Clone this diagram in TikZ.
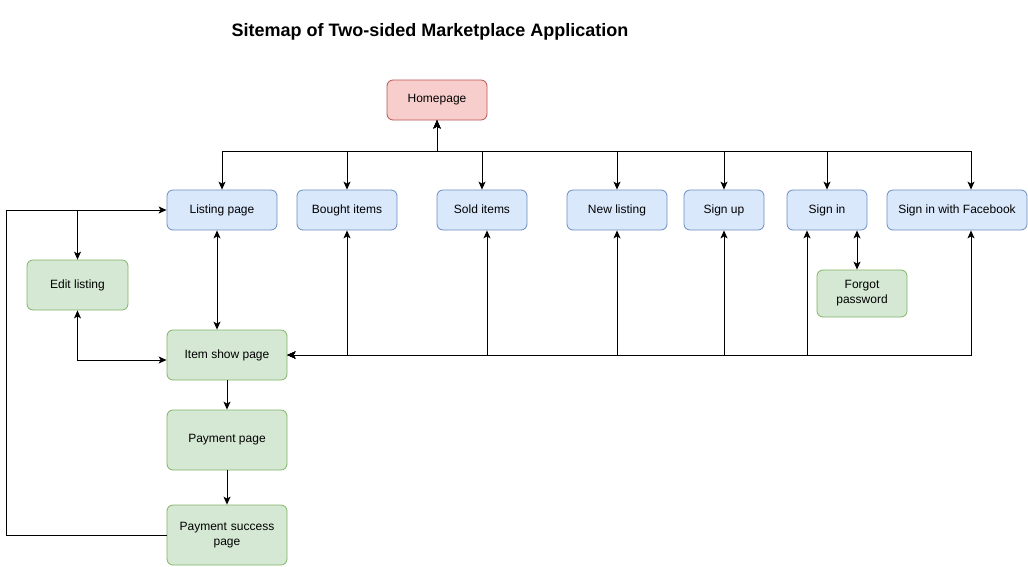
\documentclass[tikz,border=0pt]{standalone}
\usepackage{fontspec}
\setmainfont{Liberation Sans}
\usetikzlibrary{positioning,arrows.meta}

\definecolor{bluefill}{HTML}{DAE8FC}
\definecolor{blueline}{HTML}{6C8EBF}
\definecolor{greenfill}{HTML}{D5E8D4}
\definecolor{greenline}{HTML}{82B366}
\definecolor{redfill}{HTML}{F8CECC}
\definecolor{redline}{HTML}{B85450}

\begin{document}
\begin{tikzpicture}[
    x=1pt, y=-1pt,
    page/.style={rectangle, rounded corners=6pt, draw, line width=0.8pt, font=\fontsize{12}{15}\selectfont, align=center, inner sep=0pt, minimum height=40pt},
    rootpage/.style={page, fill=redfill, draw=redline},
    mainpage/.style={page, fill=bluefill, draw=blueline, text height=8.6pt, text depth=2.6pt},
    subpage/.style={page, fill=greenfill, draw=greenline},
    arrow/.style={-{Stealth[length=8pt, width=7pt, inset=2pt]}, line width=1pt},
    twoway/.style={{Stealth[length=8pt, width=7pt, inset=2pt]}-{Stealth[length=8pt, width=7pt, inset=2pt]}, line width=1pt}
]
    \useasboundingbox (0,0) rectangle (1028,566);

    \node[font=\fontsize{18}{21}\selectfont\bfseries] (title) at (430,32) {Sitemap of Two-sided Marketplace Application};

    \node[rootpage, minimum width=100pt] (home) at (437,100) {Homepage};

    % top level pages
    \node[mainpage, minimum width=110pt] (listing) at (222,210) {Listing page};
    \node[mainpage, minimum width=100pt] (bought) at (347,210) {Bought items};
    \node[mainpage, minimum width=90pt] (sold) at (482,210) {Sold items};
    \node[mainpage, minimum width=100pt] (newlisting) at (617,210) {New listing};
    \node[mainpage, minimum width=80pt] (signup) at (724,210) {Sign up};
    \node[mainpage, minimum width=80pt] (signin) at (827,210) {Sign in};
    \node[mainpage, minimum width=140pt] (facebook) at (957,210) {Sign in with Facebook};

    % sub pages
    \node[subpage, minimum width=101pt, minimum height=50pt] (edit) at (77.5,285) {Edit listing};
    \node[subpage, minimum width=120pt, minimum height=50pt] (itemshow) at (227,355) {Item show page};
    \node[subpage, minimum width=120pt, minimum height=60pt] (payment) at (227,440) {Payment page};
    \node[subpage, minimum width=120pt, minimum height=60pt, text width=110pt] (success) at (227,535) {Payment success\\page};
    \node[subpage, minimum width=90pt, minimum height=47pt, text width=85pt] (forgot) at (862,293.5) {Forgot\\password};

    % homepage tree
    \draw[twoway] (home.south) -- ++(0,31) -| (listing.north);
    \draw[twoway] (home.south) -- ++(0,31) -| (bought.north);
    \draw[twoway] (home.south) -- ++(0,31) -| (sold.north);
    \draw[twoway] (home.south) -- ++(0,31) -| (newlisting.north);
    \draw[twoway] (home.south) -- ++(0,31) -| (signup.north);
    \draw[twoway] (home.south) -- ++(0,31) -| (signin.north);
    \draw[twoway] (home.south) -- ++(0,31) -| ([xshift=14pt]facebook.north);

    % item show page links
    \draw[twoway] (itemshow.east) -| (bought.south);
    \draw[twoway] (itemshow.east) -| ([xshift=5pt]sold.south);
    \draw[twoway] (itemshow.east) -| (newlisting.south);
    \draw[twoway] (itemshow.east) -| (signup.south);
    \draw[twoway] (itemshow.east) -| ([xshift=-20pt]signin.south);
    \draw[twoway] (itemshow.east) -| ([xshift=14pt]facebook.south);

    \draw[twoway] ([xshift=-5pt]listing.south) -- ([xshift=-5pt]listing.south |- itemshow.north);
    \draw[twoway] ([xshift=30pt]signin.south) -- ([xshift=30pt]signin.south |- forgot.north);
    \draw[twoway] (edit.south) |- ([yshift=-5pt]itemshow.west);

    % checkout flow
    \draw[arrow] (itemshow) -- (payment);
    \draw[arrow] (payment) -- (success);
    \draw[arrow] (success.west) -- ++(-160,0) |- (listing.west);
    \coordinate (split) at (edit.north |- listing.west);
    \draw[arrow] (split) -- (edit.north);
\end{tikzpicture}
\end{document}
